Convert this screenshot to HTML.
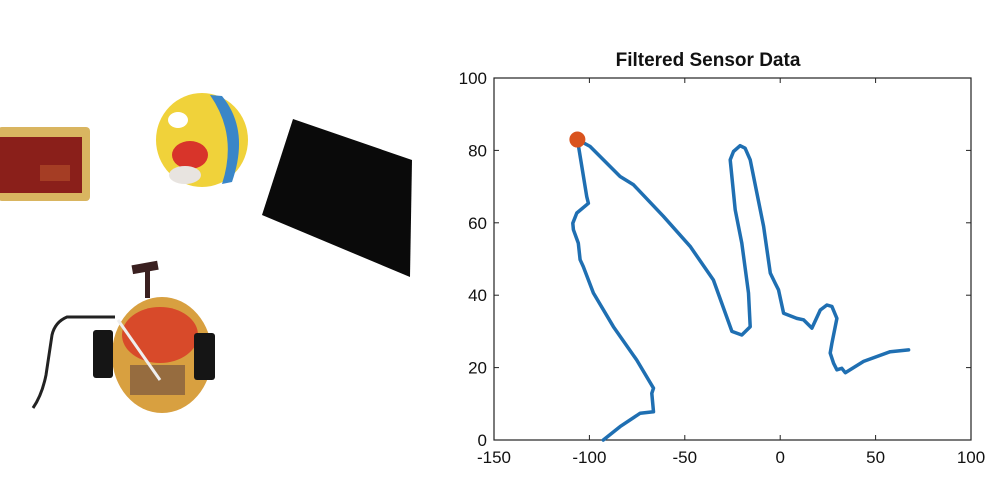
<!DOCTYPE html>
<html><head><meta charset="utf-8"><style>
html,body{margin:0;padding:0;background:#fff;width:1000px;height:500px;overflow:hidden}
svg{display:block}
</style></head><body>
<svg width="1000" height="500" viewBox="0 0 1000 500">
<g>
  <g>
    <rect x="-2" y="127" width="92" height="74" rx="4" fill="#d9b560"/>
    <rect x="0" y="137" width="82" height="56" fill="#8a1f1a"/>
    <rect x="40" y="165" width="30" height="16" fill="#b04a2a" opacity="0.7"/>
  </g>
  <g>
    <ellipse cx="202" cy="140" rx="46" ry="47" fill="#f0d23a"/>
    <path d="M222 96 Q250 130 232 182 L222 184 Q238 135 210 95Z" fill="#3a86c8"/>
    <ellipse cx="190" cy="155" rx="18" ry="14" fill="#d8342a"/>
    <ellipse cx="178" cy="120" rx="10" ry="8" fill="#fff"/>
    <ellipse cx="185" cy="175" rx="16" ry="9" fill="#e8e4e0"/>
  </g>
  <polygon points="293,119 412,160 410,277 262,215" fill="#0a0a0a"/>
  <g>
    <path d="M115 317 L67 317 Q55 322 52 335 L46 375 Q42 395 33 408" stroke="#222" stroke-width="3" fill="none"/>
    <rect x="132" y="263" width="26" height="9" fill="#3a2020" transform="rotate(-10 145 267)"/>
    <rect x="145" y="270" width="5" height="28" fill="#3a2020"/>
    <ellipse cx="162" cy="355" rx="50" ry="58" fill="#d8a040"/>
    <ellipse cx="160" cy="335" rx="38" ry="28" fill="#d84a2a"/>
    <rect x="93" y="330" width="20" height="48" rx="3" fill="#151515"/>
    <rect x="194" y="333" width="21" height="47" rx="3" fill="#151515"/>
    <rect x="130" y="365" width="55" height="30" fill="#6a4a40" opacity="0.6"/>
    <line x1="118" y1="320" x2="160" y2="380" stroke="#eee" stroke-width="3"/>
  </g>
</g>
<g id="chart"></g>
</svg>
<script>
const xTicks=[-150,-100,-50,0,50,100];
const yTicks=[0,20,40,60,80,100];
const pathX=[-92.7,-83.9,-73.4,-66.4,-67.3,-66.4,-75.2,-87.4,-97.9,-103.2,-104.9,-105.8,-108.4,-108.7,-106.6,-100.5,-101.4,-104.0,-106.3,-99.7,-83.9,-76.9,-61.2,-47.2,-35.0,-25.3,-20.1,-15.7,-16.6,-20.1,-23.6,-26.2,-24.5,-21.0,-18.4,-15.7,-12.2,-8.7,-5.2,-2.6,-0.9,1.8,8.7,12.2,16.6,21.0,24.5,27.1,29.7,27.1,26.2,28.0,29.7,32.3,34.1,43.7,57.7,67.3];
const pathY=[0,3.7,7.4,7.8,12.9,14.3,22.1,31.3,40.6,47.9,49.8,54.4,58.1,59.9,62.7,65.4,67.3,75.6,83.0,81.1,72.8,70.5,61.8,53.5,44.2,30.0,29.0,31.3,40.6,54.4,63.6,77.4,79.7,81.3,80.6,77.4,68.2,59.0,46.1,43.3,41.5,35.0,33.6,33.2,30.9,35.9,37.3,36.9,33.6,26.7,24.0,21.2,19.4,19.8,18.6,21.7,24.4,24.9];
const startX=[-106.3];
const startY=[83.0];
const L=494,R=971,T=78,B=440;
const sx=v=>L+(v+150)/250*(R-L);
const sy=v=>B-v/100*(B-T);
const NS='http://www.w3.org/2000/svg';
const g=document.getElementById('chart');
function mk(t,a,p){const e=document.createElementNS(NS,t);for(const k in a)e.setAttribute(k,a[k]);(p||g).appendChild(e);return e;}
const title=mk('text',{x:708,y:66,'text-anchor':'middle','font-family':'Liberation Sans, sans-serif','font-size':19,'font-weight':'bold',fill:'#111'});
title.textContent='Filtered Sensor Data';


const box=mk('rect',{x:L,y:T,width:R-L,height:B-T,fill:'none',stroke:'#222','stroke-width':1.2});


xTicks.forEach(v=>{const x=sx(v);
 mk('line',{x1:x,y1:B,x2:x,y2:B-5,stroke:'#222'});mk('line',{x1:x,y1:T,x2:x,y2:T+5,stroke:'#222'});
 const t=mk('text',{x:x,y:B+23,'text-anchor':'middle','font-family':'Liberation Sans, sans-serif','font-size':17,fill:'#111'});t.textContent=v;
 
 });
yTicks.forEach(v=>{const y=sy(v);
 mk('line',{x1:L,y1:y,x2:L+5,y2:y,stroke:'#222'});mk('line',{x1:R,y1:y,x2:R-5,y2:y,stroke:'#222'});
 const t=mk('text',{x:L-7,y:y+6,'text-anchor':'end','font-family':'Liberation Sans, sans-serif','font-size':17,fill:'#111'});t.textContent=v;
 
 });
const d=pathX.map((v,i)=>(i?'L':'M')+sx(v).toFixed(1)+' '+sy(pathY[i]).toFixed(1)).join(' ');
const line=mk('path',{d:d,fill:'none',stroke:'#1f6fb2','stroke-width':3.5,'stroke-linejoin':'round','stroke-linecap':'round'});


const m=mk('circle',{cx:sx(startX[0]),cy:sy(startY[0]),r:8,fill:'#d9531e'});


</script>
</body></html>
